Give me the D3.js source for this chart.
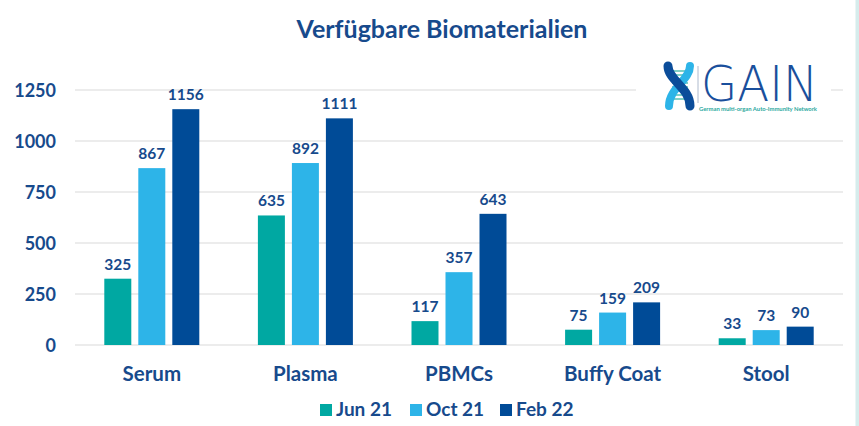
<!DOCTYPE html>
<html><head><meta charset="utf-8">
<script src="https://cdn.jsdelivr.net/npm/d3@7"></script>
<style>html,body{margin:0;padding:0;background:#fff;}svg{display:block;}</style>
</head><body>
<script>
const categories = ["Serum", "Plasma", "PBMCs", "Buffy Coat", "Stool"];
const seriesNames = ["Jun 21", "Oct 21", "Feb 22"];
const jun21 = [325, 635, 117, 75, 33];
const oct21 = [867, 892, 357, 159, 73];
const feb22 = [1156, 1111, 643, 209, 90];
const yTicks = [0, 250, 500, 750, 1000, 1250];
const colors = ["#00a8a2", "#2db4e8", "#004b97"];
const textColor = "#174a8c";

const W = 859, H = 426;
const svg = d3.select("body").append("svg").attr("width", W).attr("height", H);
const font = "Lato, 'Open Sans', sans-serif";

// border hint
svg.append("rect").attr("x", 855.5).attr("y", 0).attr("width", 3.5).attr("height", H).attr("fill", "#d6ecec");

const x0 = d3.scaleBand().domain(categories).range([75, 843]).padding(0);
const x1 = d3.scaleBand().domain(seriesNames).range([-47.5, 47.5]).paddingInner(0.206);
const y = d3.scaleLinear().domain([0, 1250]).range([345, 90]);

// gridlines
svg.append("g").selectAll("line").data(yTicks).join("line")
  .attr("x1", 75).attr("x2", 843)
  .attr("y1", d => y(d)).attr("y2", d => y(d))
  .attr("stroke", "#e6e6e6").attr("stroke-width", 1.5);

// y axis labels
const yAxis = d3.axisLeft(y).tickValues(yTicks).tickFormat(d3.format("d")).tickSize(0).tickPadding(0);
const ya = svg.append("g").attr("transform", "translate(56,0)").call(yAxis);
ya.select(".domain").remove();
ya.selectAll("text").attr("font-family", font).attr("font-weight", 700)
  .attr("font-size", 18).attr("fill", textColor).attr("dy", "0.36em");

// x axis labels
const xAxis = d3.axisBottom(x0).tickSize(0).tickPadding(0);
const xa = svg.append("g").attr("transform", "translate(0,366)").call(xAxis);
xa.select(".domain").remove();
xa.selectAll("text").attr("font-family", font).attr("font-weight", 700)
  .attr("font-size", 20.5).attr("fill", textColor).attr("dy", "0.71em");

const data = categories.map((c, i) => ({cat: c, vals: [jun21[i], oct21[i], feb22[i]]}));

const groups = svg.append("g").selectAll("g").data(data).join("g")
  .attr("transform", d => `translate(${x0(d.cat) + x0.bandwidth() / 2},0)`);

groups.selectAll("rect").data(d => d.vals.map((v, j) => ({s: seriesNames[j], v, j}))).join("rect")
  .attr("x", d => x1(d.s)).attr("width", x1.bandwidth())
  .attr("y", d => y(d.v)).attr("height", d => y(0) - y(d.v))
  .attr("fill", d => colors[d.j]);

groups.selectAll("text").data(d => d.vals.map((v, j) => ({s: seriesNames[j], v, j}))).join("text")
  .attr("x", d => x1(d.s) + x1.bandwidth() / 2).attr("y", d => y(d.v) - 9)
  .attr("text-anchor", "middle").attr("font-family", font).attr("font-weight", 700)
  .attr("font-size", 15.5).attr("fill", textColor).text(d => d.v);

// title
svg.append("text").attr("x", 442).attr("y", 38).attr("text-anchor", "middle")
  .attr("font-family", font).attr("font-weight", 700).attr("font-size", 25)
  .attr("fill", textColor).text("Verfügbare Biomaterialien");

// legend
const legX = [320, 410, 500];
const leg = svg.append("g").selectAll("g").data(seriesNames).join("g")
  .attr("transform", (d, i) => `translate(${legX[i]},404)`);
leg.append("rect").attr("width", 12).attr("height", 12).attr("fill", (d, i) => colors[i]);
leg.append("text").attr("x", 16).attr("y", 11.5).attr("font-family", font).attr("font-weight", 700)
  .attr("font-size", 19).attr("fill", textColor).text(d => d);

// logo
const logo = svg.append("g");
logo.append("rect").attr("x", 636).attr("y", 58).attr("width", 195).attr("height", 58).attr("fill", "#fff");
[71, 75, 79, 83, 87, 91, 95, 99].forEach(yy => {
  logo.append("line").attr("x1", 672).attr("x2", 688).attr("y1", yy).attr("y2", yy)
    .attr("stroke", "#2bb0a0").attr("stroke-width", 1.2);
});
logo.append("path").attr("d", "M690,66 C690,80 669,88 669,106").attr("fill", "none")
  .attr("stroke", "#2db4e8").attr("stroke-width", 8).attr("stroke-linecap", "round");
logo.append("path").attr("d", "M668,66 C668,80 690,88 690,106").attr("fill", "none")
  .attr("stroke", "#0b4d9a").attr("stroke-width", 9).attr("stroke-linecap", "round");
logo.append("line").attr("x1", 698).attr("x2", 698).attr("y1", 66).attr("y2", 103)
  .attr("stroke", "#9aa8c0").attr("stroke-width", 0.8);
logo.append("text").attr("x", 701).attr("y", 101).attr("font-family", "'DejaVu Sans', sans-serif")
  .attr("font-weight", 200).attr("font-size", 49).attr("fill", "#1a4f9c")
  .attr("textLength", 117).attr("lengthAdjust", "spacingAndGlyphs").text("GAIN");
logo.append("text").attr("x", 699).attr("y", 111).attr("font-family", font).attr("font-weight", 700)
  .attr("font-size", 5.6).attr("fill", "#2aa89e").attr("textLength", 118).attr("lengthAdjust", "spacingAndGlyphs")
  .text("German multi-organ Auto-Immunity Network");
</script>
</body></html>
